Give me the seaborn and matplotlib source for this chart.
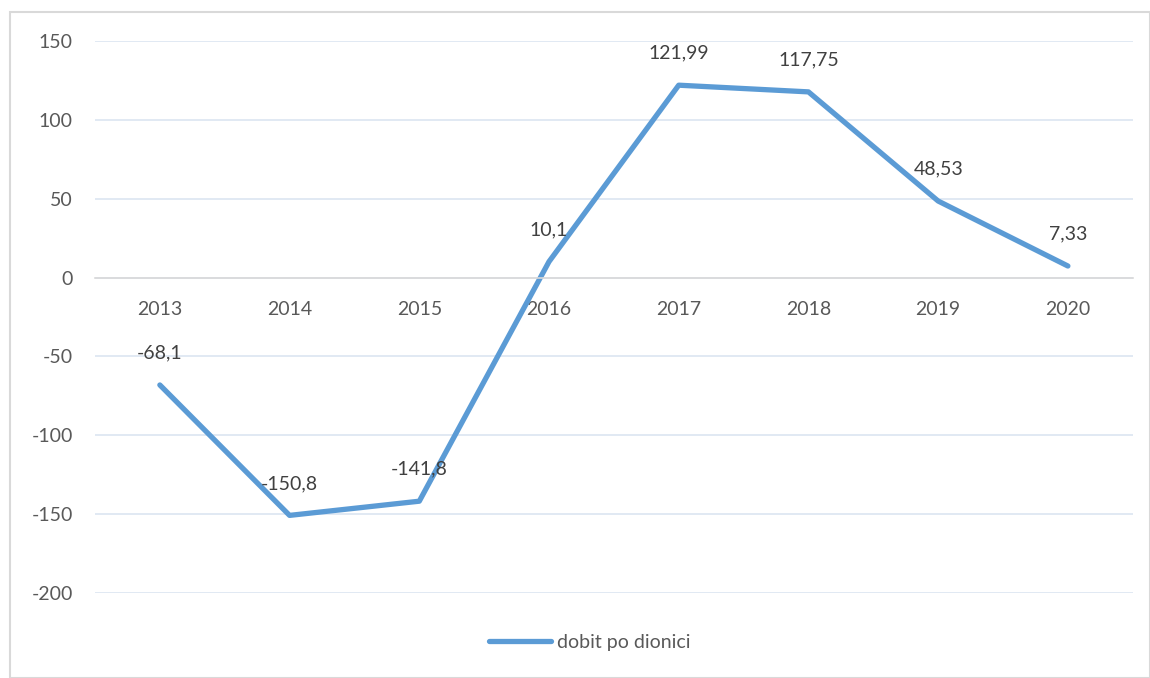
import matplotlib
matplotlib.use("Agg")
import matplotlib.pyplot as plt
import pandas as pd
import seaborn as sns

# data
years = ["2013", "2014", "2015", "2016", "2017", "2018", "2019", "2020"]
eps = [-68.1, -150.8, -141.8, 10.1, 121.99, 117.75, 48.53, 7.33]
value_labels = ["-68,1", "-150,8", "-141,8", "10,1", "121,99", "117,75", "48,53", "7,33"]
series_name = "dobit po dionici"

df = pd.DataFrame({"godina": years, "vrijednost": eps})

sns.set_theme(style="white")
plt.rcParams['font.family'] = ['Lato', 'DejaVu Sans']
plt.rcParams['axes.unicode_minus'] = False
txt = "#595959"
fs = 14

fig = plt.figure(figsize=(11.5, 6.78), dpi=100)
ax = fig.add_axes([0.0826, 0.1254, 0.9024, 0.8141])

sns.lineplot(data=df, x="godina", y="vrijednost", ax=ax, color="#5B9BD5",
             linewidth=3.8, solid_capstyle="round", solid_joinstyle="round",
             label=series_name, sort=False)

for i, (v, lab) in enumerate(zip(eps, value_labels)):
    ax.annotate(lab, (i, v), xytext=(0, 23), textcoords="offset points",
                ha="center", va="center", fontsize=fs, color="#404040")

ax.set_xlim(-0.5, len(years) - 0.5)
ax.set_ylim(-200, 150)
ax.set_yticks(range(-200, 151, 50))
ax.grid(axis="y", color="#dbe5f1", linewidth=1.2)
ax.set_axisbelow(True)

for s in ["top", "right", "left"]:
    ax.spines[s].set_visible(False)
ax.spines["bottom"].set_position(("data", 0))
ax.spines["bottom"].set_color("#d9d9d9")
ax.spines["bottom"].set_linewidth(1.2)

ax.tick_params(axis="x", length=0, pad=17, labelsize=fs, labelcolor=txt)
ax.tick_params(axis="y", length=0, pad=16, labelsize=fs, labelcolor=txt)
ax.set_xlabel("")
ax.set_ylabel("")

ax.get_legend().remove()
handles, labels = ax.get_legend_handles_labels()
fig.legend(handles, labels, loc="center", bbox_to_anchor=(0.513, 0.052),
           frameon=False, fontsize=fs, handlelength=3.2, handletextpad=0.3,
           labelcolor=txt)

# outer chart border
fig.patches.append(plt.Rectangle((10 / 1150, 0), 1 - 10 / 1150, 1 - 12 / 678,
                                 transform=fig.transFigure, fill=False,
                                 edgecolor="#d9d9d9", linewidth=1.5))

fig.savefig("out.png", dpi=100)
